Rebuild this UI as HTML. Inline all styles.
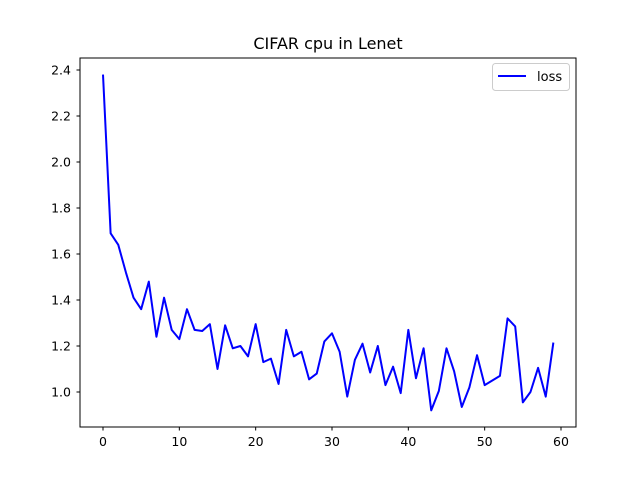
<!DOCTYPE html>
<html><head><meta charset="utf-8"><style>body{margin:0;background:#fff}svg{display:block;font-family:"DejaVu Sans","Liberation Sans",sans-serif}</style></head>
<body>
<svg id="c" width="640" height="480">
<rect width="640" height="480" fill="#fff"/>
<text x="328" y="49" font-size="16" text-anchor="middle">CIFAR cpu in Lenet</text>
<g id="ax"></g>
<polyline id="line" fill="none" stroke="#0000ff" stroke-width="2" stroke-linejoin="round"/>
<rect x="80" y="58" width="496" height="369" fill="none" stroke="#000" stroke-width="1"/>
<g>
<rect x="492.5" y="63.5" width="77" height="27" rx="3" fill="#fff" stroke="#ccc"/>
<line x1="498" y1="76" x2="526" y2="76" stroke="#0000ff" stroke-width="2"/>
<text x="537" y="81" font-size="13">loss</text>
</g>
</svg>
<script>
const epochs=[];for(let i=0;i<60;i++)epochs.push(i);
const loss=[2.38,1.69,1.64,1.52,1.41,1.36,1.48,1.24,1.41,1.27,1.23,1.36,1.27,1.265,1.295,1.10,1.29,1.19,1.20,1.155,1.295,1.13,1.145,1.035,1.27,1.155,1.175,1.055,1.08,1.22,1.255,1.175,0.98,1.14,1.21,1.085,1.20,1.03,1.11,0.995,1.27,1.06,1.19,0.92,1.005,1.19,1.09,0.935,1.02,1.16,1.03,1.05,1.07,1.32,1.285,0.955,1.00,1.105,0.98,1.215];
const xTicks=[0,10,20,30,40,50,60];
const yTicks=[1.0,1.2,1.4,1.6,1.8,2.0,2.2,2.4];
const X=v=>103+v*(561-103)/60;
const Y=v=>70+(2.4-v)*230;
document.getElementById('line').setAttribute('points',epochs.map((e,i)=>X(e)+','+Y(loss[i])).join(' '));
const ns='http://www.w3.org/2000/svg',ax=document.getElementById('ax');
function mk(t,a){const e=document.createElementNS(ns,t);for(const k in a)e.setAttribute(k,a[k]);ax.appendChild(e);return e;}
xTicks.forEach(t=>{const x=X(t);
const l=mk('line',{x1:x,x2:x,y1:427,y2:430.5,stroke:'#000'});


const s=mk('text',{x:x,y:446,'font-size':12.5,'text-anchor':'middle'});s.textContent=t;

});
yTicks.forEach(t=>{const y=Y(t);
const l=mk('line',{x1:76.5,x2:80,y1:y,y2:y,stroke:'#000'});


const s=mk('text',{x:71,y:y+4.5,'font-size':12.5,'text-anchor':'end'});s.textContent=t.toFixed(1);

});
</script>
</body></html>
